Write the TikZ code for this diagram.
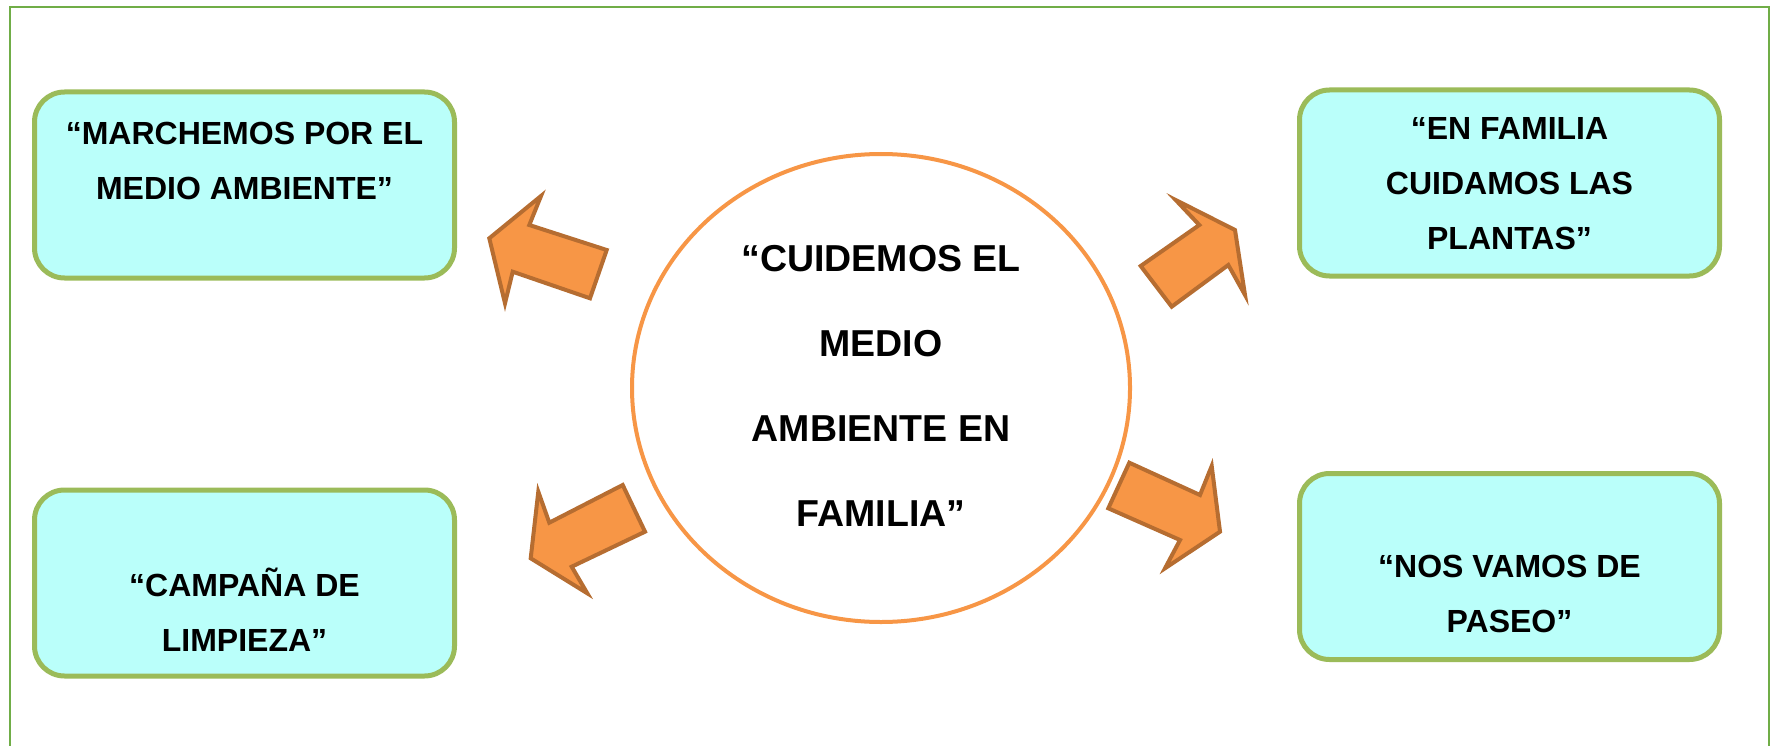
\documentclass[tikz,border=0pt]{standalone}
\usepackage{fontspec}
\setmainfont{Liberation Sans}
\usetikzlibrary{shapes.geometric}
\definecolor{framegreen}{HTML}{70AD47}
\definecolor{boxgreen}{HTML}{9BBB59}
\definecolor{boxfill}{HTML}{BAFFFA}
\definecolor{ringorange}{HTML}{F79646}
\definecolor{arrowfill}{HTML}{F79646}
\definecolor{arrowline}{HTML}{B66D31}
\begin{document}
\begin{tikzpicture}[x=1pt,y=-1pt,
  boxshape/.style={draw=boxgreen, line width=5pt, fill=boxfill, rounded corners=30pt,
    minimum width=420pt, minimum height=186pt, inner sep=0pt},
  boxtext/.style={font=\fontsize{32}{55}\selectfont\bfseries, align=center, inner sep=0pt},
  ringshape/.style={ellipse, draw=ringorange, line width=4pt, fill=white,
    minimum width=498pt, minimum height=468pt, inner sep=0pt},
  ringtext/.style={font=\fontsize{37.5}{85}\selectfont\bfseries, align=center, inner sep=0pt},
  blockarrow/.style={fill=arrowfill, draw=arrowline, line width=4pt, line join=miter}
]
\useasboundingbox (0,0) rectangle (1771,746);
% frame
\draw[framegreen, line width=2pt] (10,760) -- (10,7) -- (1769,7) -- (1769,760);

% boxes
\node[boxshape] (tl) at (244.5,185) {};
\node[boxshape] (tr) at (1509.5,183) {};
\node[boxshape] (bl) at (244.5,583) {};
\node[boxshape] (br) at (1509.5,566.5) {};

\node[boxtext] (tltext) at (244.5,161) {“MARCHEMOS POR EL\\MEDIO AMBIENTE”};
\node[boxtext] (trtext) at (1509.5,184) {“EN FAMILIA\\CUIDAMOS LAS\\PLANTAS”};
\node[boxtext] (bltext) at (244.5,610) {“CAMPAÑA DE\\LIMPIEZA”};
\node[boxtext] (brtext) at (1509.5,594) {“NOS VAMOS DE\\PASEO”};

% central circle
\node[ringshape] (ring) at (881,388) {};
\node[ringtext] (ringtext) at (881,386) {“CUIDEMOS EL\\MEDIO\\AMBIENTE EN\\FAMILIA”};

% block arrows
\draw[blockarrow] (489.3,238.3) -- (541,196) -- (529.3,225) -- (606.7,250) -- (590,298.3) -- (512.7,271.7) -- (505,303.3) -- cycle;
\draw[blockarrow] (1235,230) -- (1245,295) -- (1228.3,265) -- (1171.7,306.7) -- (1140.7,266) -- (1199.3,225) -- (1175.7,200) -- cycle;
\draw[blockarrow] (530.7,558.3) -- (538.3,491.7) -- (549.3,522.7) -- (622.7,485) -- (645,531.7) -- (571.7,566.7) -- (587.3,593.3) -- cycle;
\draw[blockarrow] (1220,531.7) -- (1165,568.3) -- (1180,540) -- (1108.3,508.3) -- (1129.3,462.7) -- (1200,495) -- (1211.7,466) -- cycle;
\end{tikzpicture}
\end{document}
